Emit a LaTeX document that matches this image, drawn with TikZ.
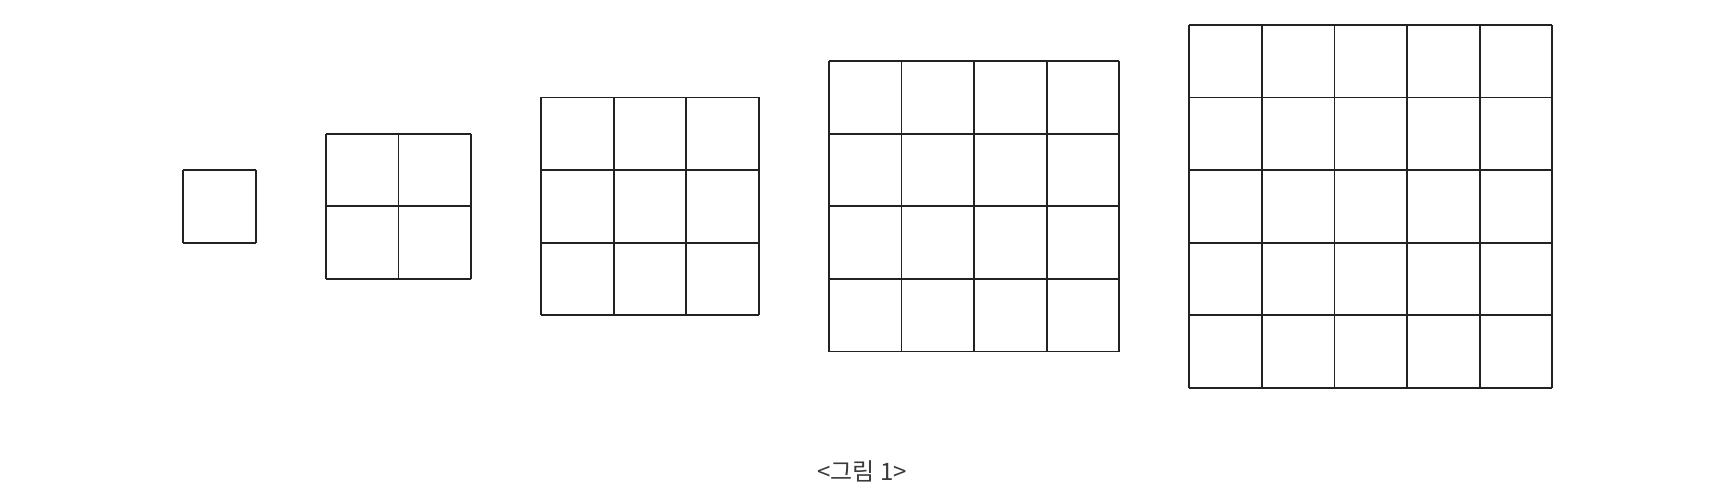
\documentclass[tikz,border=0pt]{standalone}
\usepackage{fontspec}
\newfontfamily\cjk{Noto Sans CJK KR}
\definecolor{linegray}{HTML}{222222}
\definecolor{textgray}{HTML}{3A3A3A}
\tikzset{
  gridline/.style={draw=linegray, line width=0.7pt},
  caption/.style={font=\cjk\fontsize{9.4}{11}\selectfont, text=textgray, inner sep=0pt}
}
\begin{document}
\begin{tikzpicture}

  % Page frame, 1 cm = one cell
  \useasboundingbox (0,0) rectangle (23.747,-6.804);

  % Squares of side n = 1,...,5, split into n x n cells
  % left edge x_n = 2.525 + (n-1)*gap + (n-1)n/2, all centred at y = -2.842
  \foreach \n in {1,2,3,4,5} {
    \pgfmathsetmacro{\xl}{2.525 + (\n-1)*0.964 + (\n-1)*\n/2}
    \pgfmathsetmacro{\yb}{-2.842 - \n/2}
    \begin{scope}[shift={(\xl,\yb)}]
      \draw[gridline] (0,0) grid[step=1] (\n,\n);
    \end{scope}
  }

  % Caption
  \node[caption] (cap) at (11.874,-6.49) {<그림 1>};

\end{tikzpicture}
\end{document}
